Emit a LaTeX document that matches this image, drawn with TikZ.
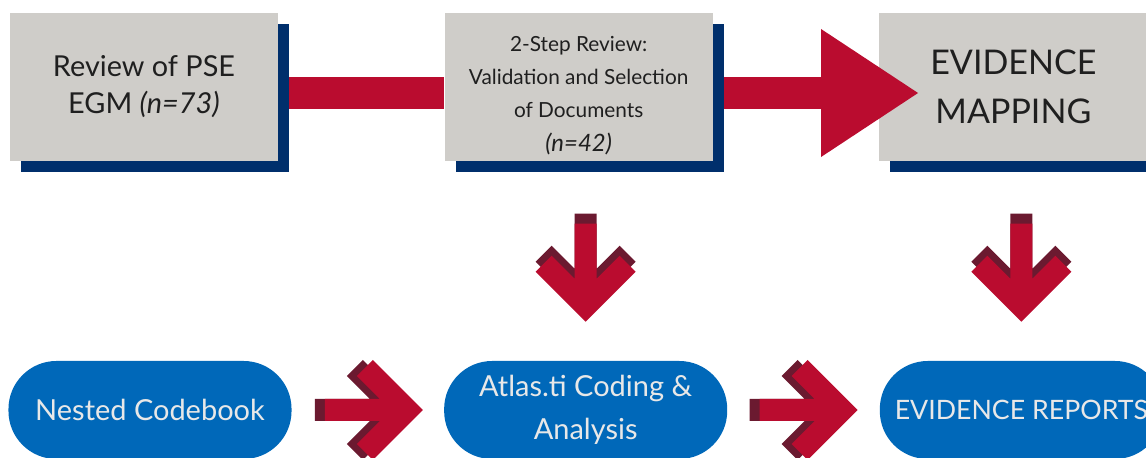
\documentclass[tikz,border=0pt]{standalone}
\usepackage{fontspec}
\setmainfont{Lato}
\usetikzlibrary{positioning,calc,shadows,arrows.meta}

\definecolor{boxgrey}{RGB}{207,205,201}
\definecolor{navy}{RGB}{0,47,108}
\definecolor{crimson}{RGB}{186,12,47}
\definecolor{wine}{RGB}{107,26,48}
\definecolor{pillblue}{RGB}{0,104,185}
\definecolor{pilltext}{RGB}{232,232,232}

\tikzset{
  greybox/.style={rectangle, fill=boxgrey, text=black!88, align=center,
    minimum width=6.7cm, minimum height=3.7cm,
    general shadow={fill=navy, shadow xshift=0.275cm, shadow yshift=-0.275cm}},
  pill/.style={rectangle, rounded corners=1.2cm, fill=pillblue, text=pilltext, align=center,
    minimum width=7.075cm, minimum height=2.45cm,
    font=\fontsize{20.6}{31}\selectfont},
  redbar/.style={draw=crimson, line width=0.8cm},
  chevron/.pic={
    % back face
    \fill[wine] (-59,-11) -- (-4,-11) -- (-27,-34) -- (-11,-50) -- (39,0)
      -- (-11,50) -- (-27,34) -- (-4,11) -- (-59,11) -- cycle;
    % front face
    \fill[crimson] (-49,-11) -- (6,-11) -- (-17,-34) -- (-1,-50) -- (49,0)
      -- (-1,50) -- (-17,34) -- (6,11) -- (-49,11) -- cycle;
  }
}

\begin{document}
\begin{tikzpicture}[x=0.025cm, y=-0.025cm]
  \useasboundingbox (0,0) rectangle (1146,458);
  \clip (0,0) rectangle (1146,458);

  % Top row of boxes
  \node[greybox, font=\fontsize{20.5}{26.3}\selectfont] (review) at (144,87)
    {Review of PSE\\EGM \textit{(n=73)}};
  \node[greybox, right=4.15cm of review, font=\fontsize{14.8}{23.7}\selectfont] (select)
    {\rule{0pt}{0.8cm}2-Step Review:\\Validation and Selection\\of Documents\\{\fontsize{17}{23.7}\selectfont\textit{(n=42)}}};
  \node[greybox, right=4.15cm of select, font=\fontsize{24.2}{34.9}\selectfont] (mapping)
    {EVIDENCE\\MAPPING};

  % Bottom row of pills
  \node[pill] (codebook) at (150,410) {Nested Codebook};
  \node[pill, right=3.8cm of codebook] (atlas) {Atlas.ti Coding \&\\Analysis};
  \node[pill, right=3.8cm of atlas, font=\fontsize{19}{31}\selectfont] (reports)
    {EVIDENCE REPORTS};

  % Bars between the boxes
  \draw[redbar, shorten <=0.275cm] ([yshift=-0.15cm]review.east) -- ([yshift=-0.15cm]select.west);
  \draw[redbar, shorten <=0.275cm, shorten >=-0.975cm,
    -{Triangle[length=2.425cm, width=3.2cm, line width=0pt]}]
    ([yshift=-0.15cm]select.east) -- ([yshift=-0.15cm]mapping.west);

  % Chevron arrows
  \pic[rotate=-90] at ($(atlas.north)+(0,-88)$) {chevron};
  \pic[rotate=-90] at ($(reports.north)+(0,-88)$) {chevron};
  \pic at ($(codebook.east)!.5!(atlas.west)+(6,0)$) {chevron};
  \pic at ($(atlas.east)!.5!(reports.west)+(5,0)$) {chevron};
\end{tikzpicture}
\end{document}
